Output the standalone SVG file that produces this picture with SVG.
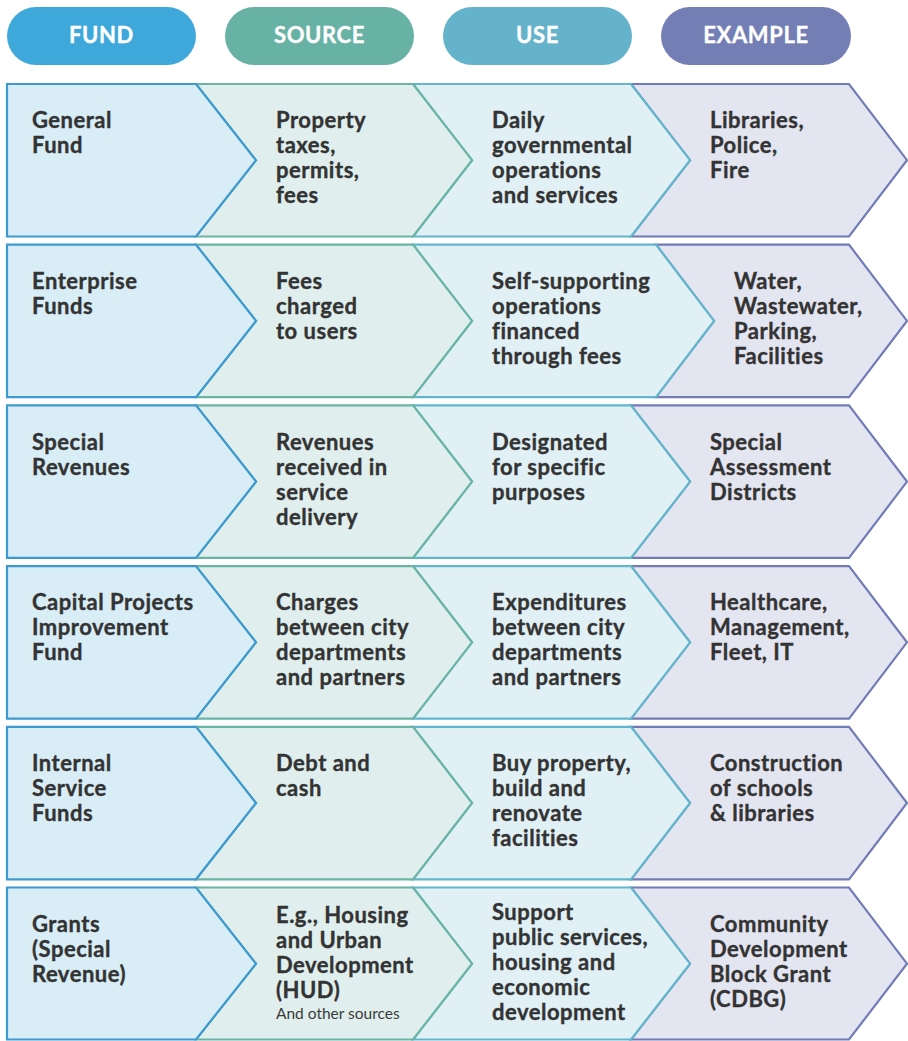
<svg xmlns="http://www.w3.org/2000/svg" width="908" height="1041" viewBox="0 0 908 1041">
<style>
.pill{stroke:none}
.ht{font-family:Lato,"Liberation Sans",sans-serif;font-weight:700;font-size:22px;fill:#ffffff;text-anchor:middle;letter-spacing:0.6px;stroke:#ffffff;stroke-width:0.35px}
.t{font-family:Lato,"Liberation Sans",sans-serif;font-weight:700;font-size:22px;fill:#333333;letter-spacing:0.5px;stroke:#333333;stroke-width:0.35px}
.s{font-family:Lato,"Liberation Sans",sans-serif;font-weight:400;font-size:15.5px;fill:#3a3a3a}
.fund{fill:#d8edf6;stroke:#3d9ad0;stroke-width:2.2;stroke-linejoin:miter}
.src{fill:#e0efee;stroke:#6ab4a5;stroke-width:2.2}
.use{fill:#e0f0f5;stroke:#62b6cb;stroke-width:2.2}
.ex{fill:#e3e5f0;stroke:#717bb6;stroke-width:2.2}
</style>
<g id="header">
<g id="h-fund"><rect class="pill" x="7" y="7" width="189" height="58" rx="29" fill="#3fa8da"/><text class="ht" x="101.5" y="43">FUND</text></g>
<g id="h-source"><rect class="pill" x="225" y="7" width="189" height="58" rx="29" fill="#67b2a5"/><text class="ht" x="319.5" y="43">SOURCE</text></g>
<g id="h-use"><rect class="pill" x="443" y="7" width="189" height="58" rx="29" fill="#64b3cb"/><text class="ht" x="537.5" y="43">USE</text></g>
<g id="h-example"><rect class="pill" x="661" y="7" width="190" height="58" rx="29" fill="#737eb4"/><text class="ht" x="756" y="43">EXAMPLE</text></g>
</g>
<g id="connectors"></g>

<g id="row1">
<polygon class="ex" points="631,84 849,84 907,160.2 849,236.5 631,236.5 690,160.2"/>
<polygon class="use" points="413,84 631,84 690,160.2 631,236.5 413,236.5 472,160.2"/>
<polygon class="src" points="196,84 413,84 472,160.2 413,236.5 196,236.5 256,160.2"/>
<polygon class="fund" points="7,84 196,84 256,160.2 196,236.5 7,236.5"/>
<text class="t" x="32" y="128">General<tspan x="32" dy="25">Fund</tspan></text>
<text class="t" x="276" y="128">Property<tspan x="276" dy="25">taxes,</tspan><tspan x="276" dy="25">permits,</tspan><tspan x="276" dy="25">fees</tspan></text>
<text class="t" x="492" y="128">Daily<tspan x="492" dy="25">governmental</tspan><tspan x="492" dy="25">operations</tspan><tspan x="492" dy="25">and services</tspan></text>
<text class="t" x="710" y="128">Libraries,<tspan x="710" dy="25">Police,</tspan><tspan x="710" dy="25">Fire</tspan></text>
</g>

<g id="row2">
<polygon class="ex" points="656,244.7 849,244.7 907,320.9 849,397.2 656,397.2 714,320.9"/>
<polygon class="use" points="413,244.7 656,244.7 714,320.9 656,397.2 413,397.2 472,320.9"/>
<polygon class="src" points="196,244.7 413,244.7 472,320.9 413,397.2 196,397.2 256,320.9"/>
<polygon class="fund" points="7,244.7 196,244.7 256,320.9 196,397.2 7,397.2"/>
<text class="t" x="32" y="289">Enterprise<tspan x="32" dy="25">Funds</tspan></text>
<text class="t" x="276" y="289">Fees<tspan x="276" dy="25">charged</tspan><tspan x="276" dy="25">to users</tspan></text>
<text class="t" x="492" y="289">Self-supporting<tspan x="492" dy="25">operations</tspan><tspan x="492" dy="25">financed</tspan><tspan x="492" dy="25">through fees</tspan></text>
<text class="t" x="734" y="289">Water,<tspan x="734" dy="25">Wastewater,</tspan><tspan x="734" dy="25">Parking,</tspan><tspan x="734" dy="25">Facilities</tspan></text>
</g>

<g id="row3">
<polygon class="ex" points="631,405.4 849,405.4 907,481.6 849,557.9 631,557.9 690,481.6"/>
<polygon class="use" points="413,405.4 631,405.4 690,481.6 631,557.9 413,557.9 472,481.6"/>
<polygon class="src" points="196,405.4 413,405.4 472,481.6 413,557.9 196,557.9 256,481.6"/>
<polygon class="fund" points="7,405.4 196,405.4 256,481.6 196,557.9 7,557.9"/>
<text class="t" x="32" y="449.5">Special<tspan x="32" dy="25">Revenues</tspan></text>
<text class="t" x="276" y="449.5">Revenues<tspan x="276" dy="25">received in</tspan><tspan x="276" dy="25">service</tspan><tspan x="276" dy="25">delivery</tspan></text>
<text class="t" x="492" y="449.5">Designated<tspan x="492" dy="25">for specific</tspan><tspan x="492" dy="25">purposes</tspan></text>
<text class="t" x="710" y="449.5">Special<tspan x="710" dy="25">Assessment</tspan><tspan x="710" dy="25">Districts</tspan></text>
</g>

<g id="row4">
<polygon class="ex" points="631,566.1 849,566.1 907,642.3 849,718.6 631,718.6 690,642.3"/>
<polygon class="use" points="413,566.1 631,566.1 690,642.3 631,718.6 413,718.6 472,642.3"/>
<polygon class="src" points="196,566.1 413,566.1 472,642.3 413,718.6 196,718.6 256,642.3"/>
<polygon class="fund" points="7,566.1 196,566.1 256,642.3 196,718.6 7,718.6"/>
<text class="t" x="32" y="610">Capital Projects<tspan x="32" dy="25">Improvement</tspan><tspan x="32" dy="25">Fund</tspan></text>
<text class="t" x="276" y="610">Charges<tspan x="276" dy="25">between city</tspan><tspan x="276" dy="25">departments</tspan><tspan x="276" dy="25">and partners</tspan></text>
<text class="t" x="492" y="610">Expenditures<tspan x="492" dy="25">between city</tspan><tspan x="492" dy="25">departments</tspan><tspan x="492" dy="25">and partners</tspan></text>
<text class="t" x="710" y="610">Healthcare,<tspan x="710" dy="25">Management,</tspan><tspan x="710" dy="25">Fleet, IT</tspan></text>
</g>

<g id="row5">
<polygon class="ex" points="631,726.8 849,726.8 907,803 849,879.3 631,879.3 690,803"/>
<polygon class="use" points="413,726.8 631,726.8 690,803 631,879.3 413,879.3 472,803"/>
<polygon class="src" points="196,726.8 413,726.8 472,803 413,879.3 196,879.3 256,803"/>
<polygon class="fund" points="7,726.8 196,726.8 256,803 196,879.3 7,879.3"/>
<text class="t" x="32" y="771">Internal<tspan x="32" dy="25">Service</tspan><tspan x="32" dy="25">Funds</tspan></text>
<text class="t" x="276" y="771">Debt and<tspan x="276" dy="25">cash</tspan></text>
<text class="t" x="492" y="771">Buy property,<tspan x="492" dy="25">build and</tspan><tspan x="492" dy="25">renovate</tspan><tspan x="492" dy="25">facilities</tspan></text>
<text class="t" x="710" y="771">Construction<tspan x="710" dy="25">of schools</tspan><tspan x="710" dy="25">&amp; libraries</tspan></text>
</g>

<g id="row6">
<polygon class="ex" points="631,887.5 849,887.5 907,963.7 849,1039.5 631,1039.5 690,963.7"/>
<polygon class="use" points="413,887.5 631,887.5 690,963.7 631,1039.5 413,1039.5 472,963.7"/>
<polygon class="src" points="196,887.5 413,887.5 472,963.7 413,1039.5 196,1039.5 256,963.7"/>
<polygon class="fund" points="7,887.5 196,887.5 256,963.7 196,1039.5 7,1039.5"/>
<text class="t" x="32" y="932">Grants<tspan x="32" dy="25">(Special</tspan><tspan x="32" dy="25">Revenue)</tspan></text>
<text class="t" x="276" y="923">E.g., Housing<tspan x="276" dy="25">and Urban</tspan><tspan x="276" dy="25">Development</tspan><tspan x="276" dy="25">(HUD)</tspan></text>
<text class="s" x="276" y="1019">And other sources</text>
<text class="t" x="492" y="920">Support<tspan x="492" dy="25">public services,</tspan><tspan x="492" dy="25">housing and</tspan><tspan x="492" dy="25">economic</tspan><tspan x="492" dy="25">development</tspan></text>
<text class="t" x="710" y="932">Community<tspan x="710" dy="25">Development</tspan><tspan x="710" dy="25">Block Grant</tspan><tspan x="710" dy="25">(CDBG)</tspan></text>
</g>
</svg>
